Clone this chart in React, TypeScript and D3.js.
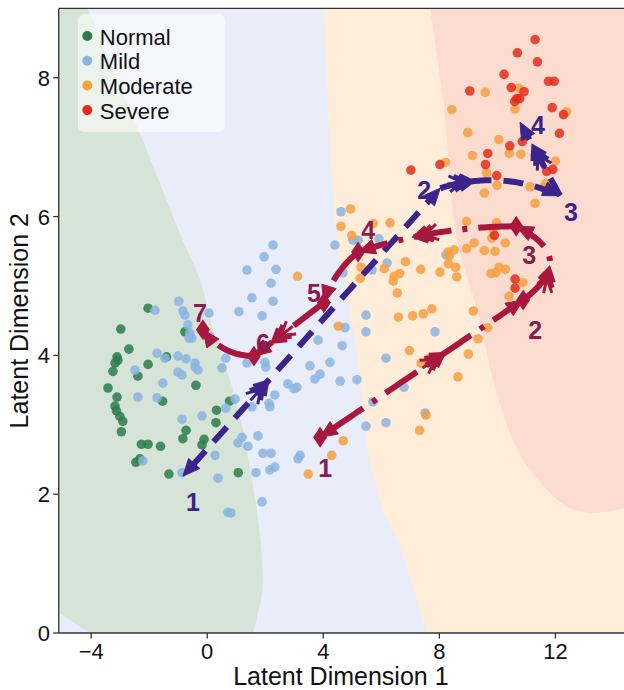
import React from 'react';
import * as d3 from 'd3';

const W = 624;
const H = 690;
const plot = { left: 58.7, right: 623, top: 8.4, bottom: 633 };

const classNames = ['Normal', 'Mild', 'Moderate', 'Severe'];
const classColors = ['#2b7d4f', '#8ab5e2', '#f6a03f', '#e22d1c'];

// latent points, [dim1, dim2]
const normalPts = [
  [-2.04, 4.68], [-2.98, 4.38], [-2.7, 4.09], [-3.11, 3.98], [-3.08, 3.93], [-3.18, 3.89],
  [-3.25, 3.77], [-2.39, 3.7], [-2.04, 3.87], [-1.4, 3.98], [-3.42, 3.53], [-3.11, 3.4],
  [-0.39, 3.57], [-1.54, 3.34], [-3.18, 3.27], [-3.13, 3.2], [-3.01, 3.12], [-2.91, 3.05],
  [-2.96, 2.9], [0.32, 3.21], [0.3, 3.03], [0.77, 3.34], [-0.73, 2.92], [-0.84, 2.8],
  [-0.11, 2.79], [-0.18, 2.71], [-2.27, 2.72], [-2.04, 2.72], [-1.61, 2.69], [-2.32, 2.51],
  [-2.46, 2.46], [-1.32, 2.29], [1.07, 2.31], [-0.77, 4.34],
];
const mildPts = [
  [-1.8, 4.65], [-0.98, 4.78], [-0.84, 4.64], [-0.77, 4.58], [0.06, 4.61], [0.09, 4.27],
  [1.09, 4.63], [1.54, 4.83], [1.89, 4.57], [2.27, 5.59], [1.96, 5.42], [1.37, 5.23],
  [2.37, 5.24], [2.2, 5.04], [2.27, 4.78], [-0.67, 4.44], [-0.6, 4.32], [-0.63, 4.25],
  [-0.53, 4.25], [-1.73, 4.03], [-1.46, 3.96], [-1.01, 3.99], [-0.73, 3.95], [-0.42, 3.89],
  [-0.42, 3.83], [-0.32, 3.79], [-1.01, 3.76], [-0.87, 3.72], [-2.49, 3.79], [-1.53, 3.6],
  [-2.39, 3.4], [-1.73, 3.39], [0.64, 3.96], [0.51, 3.82], [1.37, 3.89], [1.99, 3.9],
  [2.02, 3.83], [0.96, 3.37], [0.64, 3.24], [1.54, 3.26], [-0.18, 3.13], [-0.87, 3.08],
  [1.2, 2.82], [1.06, 2.74], [1.4, 2.69], [1.75, 2.84], [1.92, 2.59], [2.2, 2.59],
  [0.27, 2.56], [-2.22, 2.48], [-0.87, 2.31], [0.37, 2.23], [1.68, 2.31], [2.16, 2.35],
  [2.33, 2.39], [3.13, 2.51], [3.2, 2.56], [1.89, 1.89], [0.71, 1.74], [0.82, 1.73],
  [2.78, 3.59], [2.99, 3.52], [3.09, 3.54], [2.33, 3.43], [2.13, 3.31], [2.16, 3.26],
  [3.54, 3.85], [3.89, 3.73], [3.71, 3.66], [4.23, 3.9], [3.82, 4.22], [4.65, 4.14],
  [4.75, 4.4], [4.58, 3.63], [5.16, 3.65], [4.61, 6.07], [4.4, 5.59], [5.02, 5.66],
  [5.2, 5.66], [5.92, 5.68], [6.2, 5.33], [5.68, 5.23], [4.68, 5.19], [5.47, 4.58],
  [5.47, 4.34], [6.16, 3.96], [6.78, 3.54], [5.71, 3.33], [5.47, 2.98], [6.16, 3.03],
  [7.51, 3.17], [7.85, 4.34], [8.23, 5.45],
];
const moderatePts = [
  [4.94, 6.11], [4.61, 5.86], [4.98, 5.73], [5.72, 5.9], [6.3, 5.91], [3.11, 5.14],
  [4.52, 4.42], [4.69, 2.77], [4.29, 2.56], [3.48, 2.29], [9.55, 6.34], [8.94, 5.93],
  [9.97, 5.91], [9.2, 5.62], [8.94, 5.54], [9.55, 5.51], [9.92, 5.5], [10.27, 5.62],
  [9.86, 5.81], [9.81, 5.69], [8.31, 5.49], [8.51, 5.52], [8.34, 5.43], [8.31, 5.32],
  [8.56, 5.27], [8.02, 5.2], [8.6, 5.13], [7.36, 5.24], [6.83, 5.35], [6.1, 5.25],
  [5.3, 5.27], [5.27, 5.11], [6.63, 5.18], [6.44, 5.14], [6.41, 5.07], [6.55, 4.9],
  [9.78, 5.18], [9.94, 5.19], [10.06, 5.27], [10.28, 5.24], [10.88, 5.05], [10.4, 4.85],
  [7.74, 4.67], [7.45, 4.6], [7.08, 4.57], [6.59, 4.55], [9.17, 4.64], [9.67, 4.4],
  [6.97, 4.07], [7.68, 3.96], [7.37, 3.89], [9.33, 4.24], [9.0, 4.02], [8.64, 3.69],
  [7.54, 3.14], [7.32, 2.92], [9.58, 7.79], [8.43, 7.54], [10.61, 7.55], [10.74, 7.85],
  [12.39, 7.51], [8.98, 7.21], [10.05, 7.11], [9.14, 6.88], [10.41, 6.91], [10.81, 6.9],
  [11.3, 6.89], [12.0, 6.8], [8.21, 6.78], [9.63, 6.63], [9.99, 6.45], [11.13, 6.43],
  [11.68, 6.48], [11.61, 6.43], [11.3, 6.19],
];
const severePts = [
  [11.3, 8.55], [10.69, 8.36], [11.38, 8.23], [10.23, 8.05], [11.76, 7.95], [11.96, 7.95],
  [10.48, 7.86], [10.92, 7.8], [9.05, 7.81], [10.67, 7.7], [10.77, 7.7], [10.6, 7.66],
  [11.89, 7.57], [12.28, 7.47], [12.14, 7.2], [10.86, 7.08], [10.43, 7.02], [9.67, 6.91],
  [9.59, 6.75], [7.02, 6.67], [8.02, 6.75], [11.7, 6.65], [11.91, 6.68], [9.98, 6.59],
  [9.9, 5.73], [10.61, 5.1], [10.61, 4.97],
];
const classPts = [normalPts, mildPts, moderatePts, severePts];

// decision region boundaries
const normalBoundary = [
  [-4.11, 9], [-2.32, 7.2], [-0.84, 5.66], [-0.25, 5.09], [0.2, 4.37], [0.78, 3.65],
  [1.23, 2.93], [1.47, 2.35], [1.71, 1.77], [1.89, 1.05], [1.89, 0.58], [1.58, 0],
];
const cornerBoundary = [[-4.04, 0], [-4.49, 0.12], [-5.12, 0.3]];
const moderateBoundary = [
  [4.02, 9], [4.47, 5.66], [4.92, 4.65], [5.27, 3.65], [5.61, 2.42], [5.72, 2.25],
  [6.06, 1.77], [6.64, 1.24], [7.09, 0.66], [7.57, 0],
];
const severeBoundary = [
  [7.68, 9], [8.13, 7.68], [8.61, 5.66], [9.3, 4.65], [9.85, 3.65], [10.27, 3.07],
  [10.68, 2.64], [11.13, 2.35], [11.71, 2.06], [12.4, 1.82], [13.3, 1.73], [14.4, 1.8],
];
const regionColors = ['#d6e4d8', '#e8edf9', '#ffecd9', '#fddcd0'];

// trajectories
const purplePts = [[-0.84, 2.26], [8.03, 6.41], [12.16, 6.3], [10.78, 7.36]];
const purpleNames = ['1', '2', '3', '4'];
const crimsonPts = [
  [3.89, 2.82], [10.89, 4.8], [10.65, 5.86], [5.2, 5.49], [4.02, 4.76], [1.61, 3.99], [-0.15, 4.37],
];
const crimsonNames = ['1', '2', '3', '4', '5', '6', '7'];

const purpleBend = [0, 0.19, 0];
const purpleChevron = [0.33, 0.27, 0.68];
const purpleLabelOff = [[10, 26], [-16, 2], [11, 16], [18, 3]];
const crimsonBend = [0, -0.82, -0.08, -0.15, 0, 0.25];
const crimsonChevron = [0.61, 0.4, 0.64, null, 0.74, null];
const crimsonLabelOff = [[5, 31], [12, 30], [13, 29], [10, -22], [-10, -10], [9, -13], [-3, -17]];

const xTicks = [-4, 0, 4, 8, 12];
const yTicks = [0, 2, 4, 6, 8];

const FONT = '"Liberation Sans", Arial, sans-serif';
const PURPLE = '#3b248b';
const CRIMSON = '#a8173d';
const CRIMSON_TXT = '#861d50';

const x = d3.scaleLinear().domain([-5.12, 14.33]).range([plot.left, plot.right]);
const y = d3.scaleLinear().domain([0, 9]).range([plot.bottom, plot.top]);

type P = [number, number];

function segment(p0: number[], p1: number[], bend: number) {
  const a: P = [x(p0[0]), y(p0[1])];
  const b: P = [x(p1[0]), y(p1[1])];
  const dx = b[0] - a[0], dy = b[1] - a[1];
  const c: P = [(a[0] + b[0]) / 2 + bend * dy, (a[1] + b[1]) / 2 - bend * dx];
  const at = (t: number): P => [
    (1 - t) * (1 - t) * a[0] + 2 * (1 - t) * t * c[0] + t * t * b[0],
    (1 - t) * (1 - t) * a[1] + 2 * (1 - t) * t * c[1] + t * t * b[1],
  ];
  const tan = (t: number): P => {
    const tx = 2 * (1 - t) * (c[0] - a[0]) + 2 * t * (b[0] - c[0]);
    const ty = 2 * (1 - t) * (c[1] - a[1]) + 2 * t * (b[1] - c[1]);
    const l = Math.hypot(tx, ty) || 1;
    return [tx / l, ty / l];
  };
  const samples = d3.range(0, 61).map(i => at(i / 60));
  return { a, b, at, tan, samples };
}

function trim(pts: P[], startCut: number, endCut: number): P[] {
  const cum = [0];
  for (let i = 1; i < pts.length; i++) cum.push(cum[i - 1] + Math.hypot(pts[i][0] - pts[i - 1][0], pts[i][1] - pts[i - 1][1]));
  const total = cum[cum.length - 1];
  const lo = startCut, hi = total - endCut;
  const pick = (s: number): P => {
    let i = 1;
    while (i < cum.length - 1 && cum[i] < s) i++;
    const f = (s - cum[i - 1]) / (cum[i] - cum[i - 1] || 1);
    return [pts[i - 1][0] + f * (pts[i][0] - pts[i - 1][0]), pts[i - 1][1] + f * (pts[i][1] - pts[i - 1][1])];
  };
  const out: P[] = [pick(lo)];
  pts.forEach((p, i) => { if (cum[i] > lo && cum[i] < hi) out.push(p); });
  out.push(pick(hi));
  return out;
}

function arrowHead(tip: P, u: P, len = 17, half = 7.5) {
  const n: P = [-u[1], u[0]];
  const bx = tip[0] - u[0] * len, by = tip[1] - u[1] * len;
  return `M${tip[0]},${tip[1]}L${bx + n[0] * half},${by + n[1] * half}L${bx - n[0] * half},${by - n[1] * half}Z`;
}

function chevron(tip: P, u: P) {
  const n: P = [-u[1], u[0]];
  let d = `M${tip[0]},${tip[1]}L${tip[0] - u[0] * 26},${tip[1] - u[1] * 26}`;
  for (let k = 0; k < 3; k++) {
    const ax = tip[0] - u[0] * k * 5.5, ay = tip[1] - u[1] * k * 5.5;
    d += `M${ax - u[0] * 13 + n[0] * 8},${ay - u[1] * 13 + n[1] * 8}L${ax},${ay}L${ax - u[0] * 13 - n[0] * 8},${ay - u[1] * 13 - n[1] * 8}`;
  }
  return d;
}

const lineGen = d3.line<number[]>().x(d => d[0]).y(d => d[1]);
const curveGen = d3.line<number[]>().x(d => x(d[0])).y(d => y(d[1])).curve(d3.curveCatmullRom);

function Trajectory({ pts, bends, chev, color, dash, diamonds, names, offs, txtColor }: any) {
  const segs = bends.map((bd: number, i: number) => segment(pts[i], pts[i + 1], bd));
  return (
    <g>
      {segs.map((s: any, i: number) => {
        const line = trim(s.samples, i === 0 ? 14 : 0, 14);
        const endU = s.tan(1);
        const t = chev[i];
        return (
          <g key={i}>
            <path d={lineGen(line) || ''} fill="none" stroke={color} strokeWidth={6} strokeDasharray={dash} />
            {t != null && (
              <path d={chevron(s.at(t), s.tan(t))} fill="none" stroke={color} strokeWidth={3} />
            )}
            <path d={arrowHead(s.b, endU)} fill={color} stroke={color} strokeWidth={1} strokeLinejoin="miter" />
            {i === 0 && (
              <path d={arrowHead(s.a, [-s.tan(0)[0], -s.tan(0)[1]])} fill={color} stroke={color} strokeWidth={1} />
            )}
          </g>
        );
      })}
      {diamonds && pts.map((p: number[], i: number) => {
        const cx = x(p[0]), cy = y(p[1]);
        return <path key={'d' + i} d={`M${cx},${cy - 10.5}L${cx + 7},${cy}L${cx},${cy + 10.5}L${cx - 7},${cy}Z`} fill={color} />;
      })}
      {pts.map((p: number[], i: number) => (
        <text key={'t' + i} x={x(p[0]) + offs[i][0]} y={y(p[1]) + offs[i][1]} textAnchor="middle"
          dominantBaseline="central" fontFamily={FONT} fontWeight="bold" fontSize={25} fill={txtColor}>
          {names[i]}
        </text>
      ))}
    </g>
  );
}

export default function App() {
  const x0 = x.domain()[0], x1 = x.domain()[1];
  const greenPath = curveGen(normalBoundary) + `L${x(x0)},${y(0)}L${x(x0)},${y(9)}Z`;
  const cornerPath = curveGen(cornerBoundary) + `L${x(x0)},${y(0)}Z`;
  const orangePath = curveGen(moderateBoundary) + `L${x(x1 + 0.2)},${y(0)}L${x(x1 + 0.2)},${y(9)}Z`;
  const redPath = curveGen(severeBoundary) + `L${x(x1 + 0.2)},${y(9)}Z`;
  const tickFmt = (v: number) => String(v).replace('-', '\u2212');

  return (
    <svg width={W} height={H} style={{ position: 'absolute', left: 0, top: 0 }}>
      <defs>
        <clipPath id="plotclip">
          <rect x={plot.left} y={plot.top} width={plot.right - plot.left + 2} height={plot.bottom - plot.top} />
        </clipPath>
      </defs>
      <rect width={W} height={H} fill="#fff" />
      <g clipPath="url(#plotclip)">
        <rect x={plot.left} y={plot.top} width={W - plot.left} height={plot.bottom - plot.top} fill={regionColors[1]} />
        <path d={orangePath} fill={regionColors[2]} />
        <path d={redPath} fill={regionColors[3]} />
        <path d={greenPath} fill={regionColors[0]} />
        <path d={cornerPath} fill={regionColors[1]} />
        {classPts.map((pts, k) => (
          <g key={k}>
            {pts.map((p, i) => (
              <circle key={i} cx={x(p[0])} cy={y(p[1])} r={4.8} fill={classColors[k]} fillOpacity={0.85} />
            ))}
          </g>
        ))}
        <Trajectory pts={purplePts} bends={purpleBend} chev={purpleChevron} color={PURPLE} dash="20 12"
          diamonds={false} names={purpleNames} offs={purpleLabelOff} txtColor={PURPLE} />
        <Trajectory pts={crimsonPts} bends={crimsonBend} chev={crimsonChevron} color={CRIMSON} dash="38 11 5 11"
          diamonds={true} names={crimsonNames} offs={crimsonLabelOff} txtColor={CRIMSON_TXT} />
      </g>

      {/* legend */}
      <rect x={78} y={14} width={147} height={118} rx={6} fill="#fff" fillOpacity={0.55} />
      {classNames.map((nm, i) => (
        <g key={nm} transform={`translate(87.3,${36 + i * 24.7})`}>
          <circle r={5} fill={classColors[i]} />
          <text x={12.5} y={8.5} fontFamily={FONT} fontSize={22} fill="#111">{nm}</text>
        </g>
      ))}

      {/* axes */}
      <g stroke="#333" strokeWidth={1.3} fill="none">
        <line x1={plot.left} x2={plot.left} y1={plot.top} y2={plot.bottom} />
        <line x1={plot.left} x2={W} y1={plot.bottom} y2={plot.bottom} />
        <line x1={plot.left} x2={W} y1={plot.top} y2={plot.top} />
        {xTicks.map(v => <line key={v} x1={x(v)} x2={x(v)} y1={plot.bottom} y2={plot.bottom + 5.5} />)}
        {yTicks.map(v => <line key={v} x1={plot.left - 5.5} x2={plot.left} y1={y(v)} y2={y(v)} />)}
      </g>
      {xTicks.map(v => (
        <text key={v} x={x(v)} y={659} textAnchor="middle" fontFamily={FONT} fontSize={22} fill="#111">{tickFmt(v)}</text>
      ))}
      {yTicks.map(v => (
        <text key={v} x={50} y={y(v) + 7.9} textAnchor="end" fontFamily={FONT} fontSize={22} fill="#111">{tickFmt(v)}</text>
      ))}
      <text x={(plot.left + plot.right) / 2} y={685} textAnchor="middle" fontFamily={FONT} fontSize={25} fill="#111">
        Latent Dimension 1
      </text>
      <text transform={`translate(28,${(plot.top + plot.bottom) / 2}) rotate(-90)`} textAnchor="middle"
        fontFamily={FONT} fontSize={25} fill="#111">
        Latent Dimension 2
      </text>
    </svg>
  );
}
